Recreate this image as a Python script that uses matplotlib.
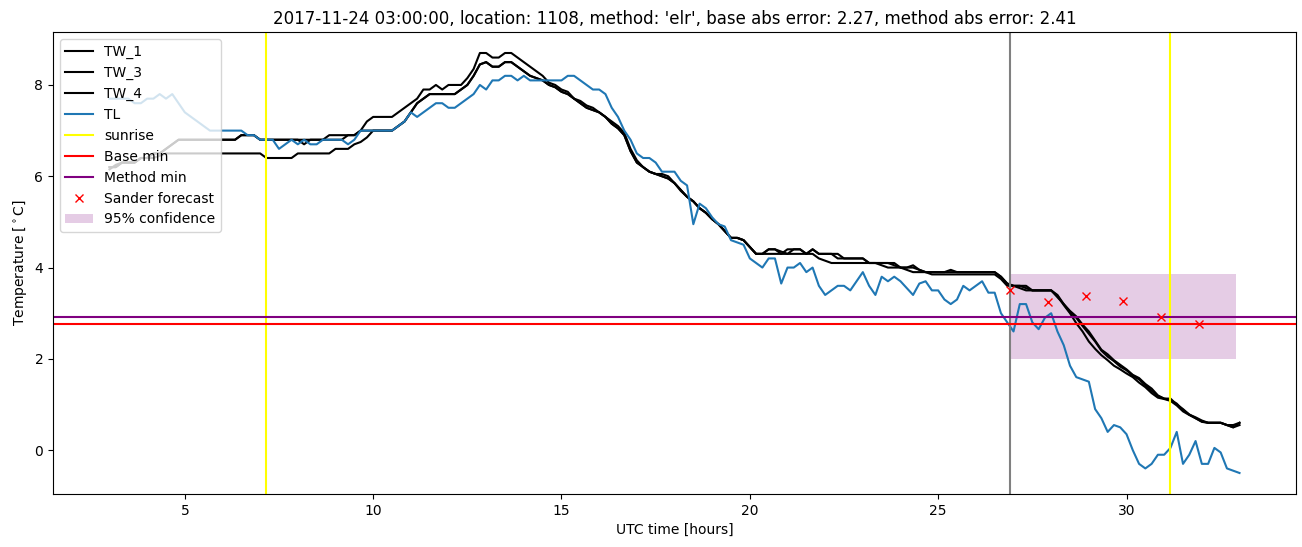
import numpy as np
import matplotlib
matplotlib.use("Agg")
import matplotlib.pyplot as plt

# ---- data (10-minute steps from 3.0 h to 33.0 h) ----
tw_1 = [
    6.2, 6.2, 6.3, 6.3, 6.3, 6.4,
    6.4, 6.5, 6.5, 6.6, 6.7, 6.8,
    6.8, 6.8, 6.8, 6.8, 6.8, 6.8,
    6.8, 6.8, 6.8, 6.9, 6.9, 6.9,
    6.8, 6.8, 6.8, 6.8, 6.8, 6.8,
    6.8, 6.8, 6.8, 6.8, 6.8, 6.9,
    6.9, 6.9, 6.9, 6.9, 7.0, 7.2,
    7.3, 7.3, 7.3, 7.3, 7.4, 7.5,
    7.6, 7.7, 7.9, 7.9, 8.0, 7.9,
    8.0, 8.0, 8.0, 8.15, 8.35, 8.7,
    8.7, 8.6, 8.6, 8.7, 8.7, 8.6,
    8.5, 8.4, 8.3, 8.2, 8.05, 8.0,
    7.9, 7.85, 7.7, 7.65, 7.55, 7.5,
    7.4, 7.3, 7.2, 7.1, 6.95, 6.6,
    6.35, 6.2, 6.1, 6.05, 6.05, 6.0,
    5.85, 5.68, 5.55, 5.45, 5.3, 5.2,
    5.06, 4.95, 4.8, 4.65, 4.65, 4.6,
    4.45, 4.3, 4.3, 4.4, 4.4, 4.35,
    4.3, 4.4, 4.4, 4.3, 4.4, 4.3,
    4.3, 4.3, 4.3, 4.2, 4.2, 4.2,
    4.2, 4.1, 4.1, 4.1, 4.1, 4.1,
    4.0, 4.0, 4.05, 3.95, 3.9, 3.9,
    3.9, 3.9, 3.95, 3.9, 3.9, 3.9,
    3.9, 3.9, 3.9, 3.9, 3.8, 3.65,
    3.6, 3.6, 3.6, 3.5, 3.5, 3.5,
    3.5, 3.4, 3.2, 3.05, 2.93, 2.75,
    2.6, 2.4, 2.2, 2.1, 1.97, 1.87,
    1.77, 1.65, 1.58, 1.45, 1.35, 1.2,
    1.13, 1.13, 1.0, 0.9, 0.78, 0.72,
    0.65, 0.6, 0.6, 0.6, 0.55, 0.55,
    0.6,
]

tw_3 = [
    6.2, 6.2, 6.3, 6.3, 6.3, 6.4,
    6.4, 6.5, 6.5, 6.6, 6.7, 6.8,
    6.8, 6.8, 6.8, 6.8, 6.8, 6.8,
    6.8, 6.8, 6.8, 6.9, 6.9, 6.9,
    6.8, 6.8, 6.8, 6.8, 6.8, 6.8,
    6.8, 6.7, 6.8, 6.8, 6.8, 6.8,
    6.8, 6.8, 6.9, 6.9, 7.0, 7.0,
    7.0, 7.0, 7.0, 7.0, 7.1, 7.2,
    7.4, 7.6, 7.7, 7.8, 7.8, 7.8,
    7.8, 7.8, 7.9, 8.0, 8.2, 8.45,
    8.5, 8.4, 8.4, 8.5, 8.5, 8.4,
    8.3, 8.2, 8.15, 8.1, 8.0, 7.95,
    7.85, 7.8, 7.7, 7.6, 7.5, 7.45,
    7.4, 7.3, 7.15, 7.05, 6.9, 6.55,
    6.3, 6.2, 6.1, 6.05, 6.0, 5.95,
    5.85, 5.7, 5.55, 5.45, 5.3, 5.2,
    5.06, 4.95, 4.8, 4.65, 4.65, 4.6,
    4.45, 4.3, 4.3, 4.3, 4.3, 4.3,
    4.3, 4.3, 4.3, 4.3, 4.3, 4.2,
    4.15, 4.1, 4.1, 4.1, 4.1, 4.1,
    4.1, 4.1, 4.1, 4.05, 4.0, 4.0,
    4.0, 3.95, 3.9, 3.9, 3.9, 3.85,
    3.85, 3.85, 3.85, 3.85, 3.85, 3.85,
    3.85, 3.85, 3.85, 3.85, 3.75, 3.6,
    3.6, 3.55, 3.5, 3.5, 3.5, 3.5,
    3.5, 3.38, 3.18, 3.0, 2.78, 2.6,
    2.38, 2.22, 2.08, 1.97, 1.85, 1.77,
    1.68, 1.6, 1.48, 1.38, 1.25, 1.15,
    1.12, 1.08, 0.98, 0.85, 0.77, 0.7,
    0.62, 0.6, 0.6, 0.6, 0.55, 0.5,
    0.6,
]

tw_4 = [
    6.15, 6.25, 6.3, 6.3, 6.3, 6.4,
    6.4, 6.4, 6.45, 6.5, 6.5, 6.5,
    6.5, 6.5, 6.5, 6.5, 6.5, 6.5,
    6.5, 6.5, 6.5, 6.5, 6.5, 6.5,
    6.5, 6.4, 6.4, 6.4, 6.4, 6.4,
    6.5, 6.5, 6.5, 6.5, 6.5, 6.5,
    6.6, 6.6, 6.6, 6.7, 6.75, 6.85,
    7.0, 7.0, 7.0, 7.0, 7.1, 7.2,
    7.4, 7.6, 7.7, 7.8, 7.8, 7.8,
    7.8, 7.8, 7.9, 8.0, 8.2, 8.45,
    8.5, 8.4, 8.4, 8.5, 8.5, 8.4,
    8.3, 8.2, 8.15, 8.1, 8.0, 7.95,
    7.85, 7.8, 7.7, 7.6, 7.5, 7.45,
    7.4, 7.3, 7.15, 7.05, 6.9, 6.55,
    6.3, 6.2, 6.1, 6.05, 6.0, 5.95,
    5.85, 5.7, 5.55, 5.45, 5.3, 5.2,
    5.06, 4.95, 4.8, 4.65, 4.65, 4.6,
    4.45, 4.3, 4.3, 4.4, 4.4, 4.3,
    4.4, 4.4, 4.4, 4.3, 4.4, 4.3,
    4.3, 4.3, 4.2, 4.2, 4.2, 4.2,
    4.2, 4.1, 4.1, 4.1, 4.1, 4.05,
    4.0, 4.0, 4.0, 3.95, 3.9, 3.9,
    3.9, 3.9, 3.9, 3.9, 3.9, 3.9,
    3.9, 3.9, 3.9, 3.9, 3.8, 3.65,
    3.6, 3.6, 3.55, 3.5, 3.5, 3.5,
    3.5, 3.35, 3.2, 3.02, 2.9, 2.72,
    2.55, 2.38, 2.18, 2.05, 1.95, 1.83,
    1.75, 1.63, 1.55, 1.42, 1.3, 1.18,
    1.13, 1.1, 1.02, 0.88, 0.78, 0.7,
    0.63, 0.6, 0.6, 0.6, 0.55, 0.5,
    0.55,
]

tl = [
    7.7, 7.7, 7.7, 7.7, 7.6, 7.6,
    7.7, 7.7, 7.8, 7.7, 7.8, 7.6,
    7.4, 7.3, 7.2, 7.1, 7.0, 7.0,
    7.0, 7.0, 7.0, 7.0, 6.9, 6.9,
    6.8, 6.8, 6.8, 6.6, 6.7, 6.8,
    6.7, 6.8, 6.7, 6.7, 6.8, 6.8,
    6.8, 6.8, 6.7, 6.8, 7.0, 7.0,
    7.0, 7.0, 7.0, 7.0, 7.1, 7.2,
    7.4, 7.3, 7.4, 7.5, 7.6, 7.6,
    7.5, 7.5, 7.6, 7.7, 7.8, 8.0,
    7.9, 8.1, 8.1, 8.2, 8.2, 8.1,
    8.2, 8.1, 8.1, 8.1, 8.1, 8.1,
    8.1, 8.2, 8.2, 8.1, 8.0, 7.9,
    7.9, 7.8, 7.5, 7.3, 7.0, 6.8,
    6.5, 6.4, 6.4, 6.3, 6.1, 6.1,
    6.1, 5.9, 5.8, 4.95, 5.4, 5.3,
    5.1, 4.95, 4.9, 4.6, 4.55, 4.5,
    4.2, 4.1, 4.0, 4.2, 4.2, 3.65,
    4.0, 4.0, 4.1, 3.9, 4.0, 3.6,
    3.4, 3.5, 3.6, 3.6, 3.5, 3.7,
    3.9, 3.6, 3.4, 3.8, 3.7, 3.8,
    3.7, 3.55, 3.4, 3.65, 3.7, 3.5,
    3.5, 3.3, 3.2, 3.3, 3.6, 3.5,
    3.6, 3.7, 3.45, 3.45, 3.0, 2.8,
    2.6, 3.2, 3.2, 2.8, 2.65, 2.9,
    3.0, 2.6, 2.3, 1.85, 1.6, 1.55,
    1.5, 0.9, 0.7, 0.4, 0.55, 0.5,
    0.35, 0.0, -0.3, -0.4, -0.3, -0.1,
    -0.1, 0.05, 0.4, -0.3, -0.1, 0.2,
    -0.3, -0.3, 0.05, -0.05, -0.4, -0.45,
    -0.5,
]

start_hour = 3.0
step_hours = 1.0 / 6.0

sunrise_hours = [7.15, 31.15]
forecast_time = 26.92
base_min = 2.77
method_min = 2.92
forecast_hours = [26.92, 27.92, 28.92, 29.92, 30.92, 31.92]
forecast_values = [3.50, 3.25, 3.38, 3.27, 2.92, 2.77]
conf_hours = [26.92, 32.92]
conf_low = 1.99
conf_high = 3.86

title = ("2017-11-24 03:00:00, location: 1108, method: 'elr', "
         "base abs error: 2.27, method abs error: 2.41")

# ---- plot ----
fig = plt.figure(figsize=(13.02, 5.47), dpi=100)
ax = fig.add_axes([0.0407, 0.0969, 0.9547, 0.8446])

def hours(series):
    return start_hour + np.arange(len(series)) * step_hours

ax.plot(hours(tw_1), tw_1, color='black', label='TW_1')
ax.plot(hours(tw_3), tw_3, color='black', label='TW_3')
ax.plot(hours(tw_4), tw_4, color='black', label='TW_4')
ax.plot(hours(tl), tl, color='C0', label='TL')
for i, s in enumerate(sunrise_hours):
    ax.axvline(s, color='yellow', label='sunrise' if i == 0 else None)
ax.axvline(forecast_time, color='gray')
ax.axhline(base_min, color='red', label='Base min')
ax.axhline(method_min, color='purple', label='Method min')
ax.plot(forecast_hours, forecast_values, 'rx', label='Sander forecast')
ax.fill_between(conf_hours, [conf_low, conf_low], [conf_high, conf_high],
                color='purple', alpha=0.2, linewidth=0, label='95% confidence')

ax.set_title(title)
ax.set_xlabel('UTC time [hours]')
ax.set_ylabel(r'Temperature [$^\circ$C]')
ax.legend(loc='upper left')

fig.savefig('out.png', dpi=100)
